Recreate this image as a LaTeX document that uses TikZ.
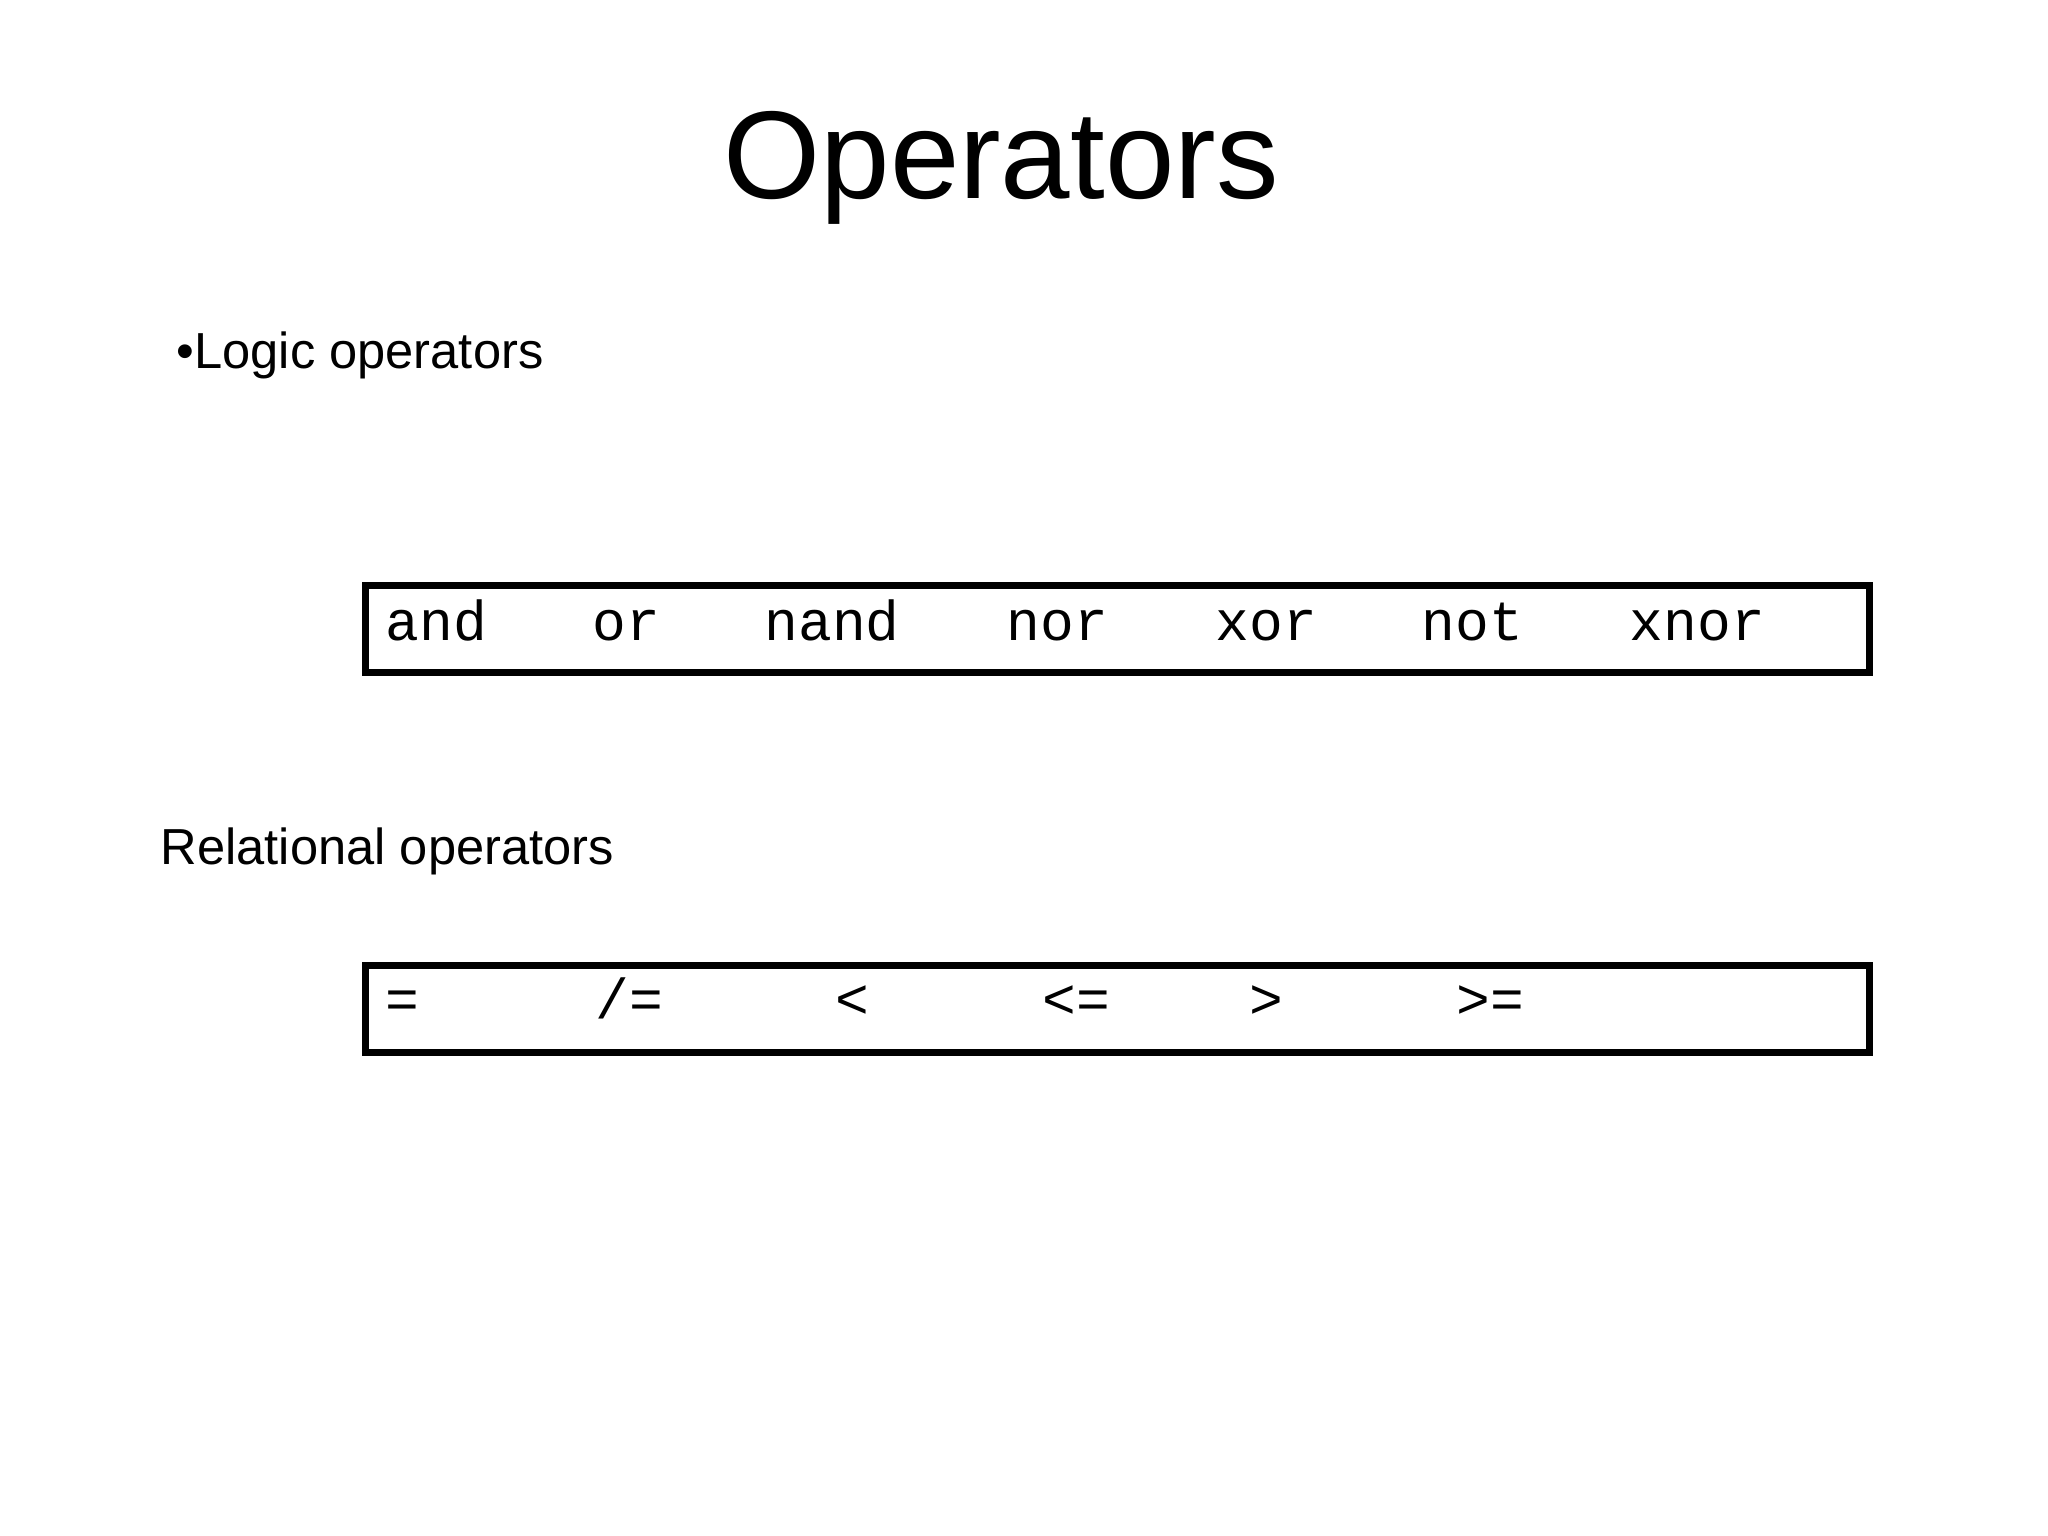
\documentclass[tikz,border=0pt]{standalone}
\usepackage{fontspec}
\setmainfont{Liberation Sans}
\setmonofont{Liberation Mono}
\usetikzlibrary{positioning}

\tikzset{
  opbox/.style={draw=black, line width=2pt, minimum width=15.03cm, minimum height=0.87cm, anchor=north west},
  optext/.style={font=\fontsize{16}{18}\selectfont\ttfamily, anchor=base west, inner sep=0pt},
  heading/.style={font=\fontsize{14.4}{17}\selectfont, anchor=base west, inner sep=0pt}
}

\begin{document}
\begin{tikzpicture}[x=0.01cm,y=-0.01cm]
  \useasboundingbox (0,0) rectangle (2048,1536);

  % title
  \node[font=\fontsize{35.5}{42}\selectfont, anchor=base] (title) at (1001,198) {Operators};

  % logic operators
  \node[heading] (logic) at (176,368) {\textbullet Logic operators};
  \node[opbox] (logicbox) at (362,582) {};
  \foreach \op/\px [count=\i] in {and/385, or/592, nand/764, nor/1006, xor/1215, not/1421, xnor/1629}
    \node[optext] (lop\i) at (\px,640) {\op};

  % relational operators
  \node[heading] (rel) at (160,864) {Relational operators};
  \node[opbox] (relbox) at (362,962) {};
  \foreach \op/\px [count=\i] in {{=}/385, {/=}/595, {<}/835, {<=}/1042, {>}/1249, {>=}/1456}
    \node[optext] (rop\i) at (\px,1018) {\op};
\end{tikzpicture}
\end{document}
